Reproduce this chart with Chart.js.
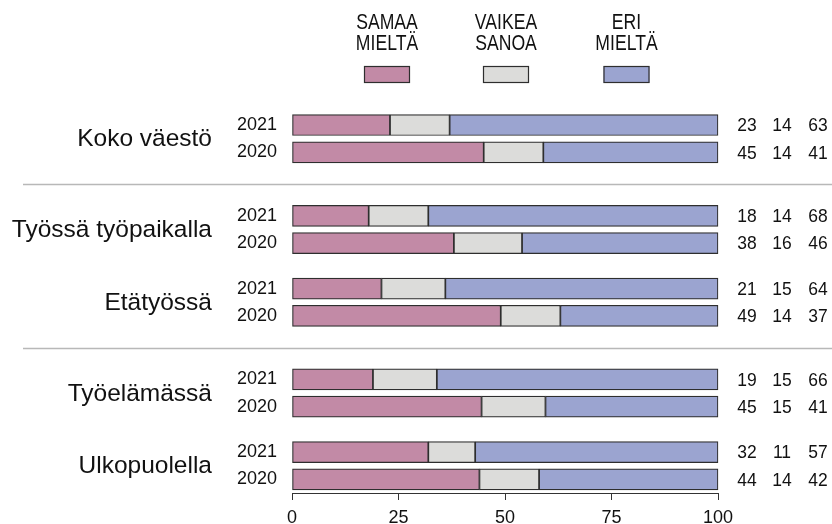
<!DOCTYPE html>
<html>
<head>
<meta charset="utf-8">
<script src="https://cdn.jsdelivr.net/npm/chart.js@4"></script>
<style>
  html, body { margin: 0; padding: 0; background: #fff; }
  canvas { display: block; }
</style>
</head>
<body>
<canvas id="chart" width="832" height="524"></canvas>
<script>
// data
var groups = ['Koko väestö', 'Työssä työpaikalla', 'Etätyössä', 'Työelämässä', 'Ulkopuolella'];
var years = ['2021', '2020'];
var samaa  = [23, 45, 18, 38, 21, 49, 19, 44.5, 32, 44];
var vaikea = [14, 14, 14, 16, 15, 14, 15, 15,   11, 14];
var eri    = [63, 41, 68, 46, 64, 37, 66, 40.5, 57, 42];
var seriesNames = [['SAMAA', 'MIELTÄ'], ['VAIKEA', 'SANOA'], ['ERI', 'MIELTÄ']];
var xTicks = [0, 25, 50, 75, 100];

var colors = ['#c28aa6', '#dcdcda', '#9ba4d0'];
var edge = '#2e2e2e';
var font = '"Liberation Sans", Arial, sans-serif';

// slot layout: rows 3 slots apart, groups 7 or 5 apart, a gray line between some groups
var rowGap = 3, groupGap = [0, 7, 5, 7, 5];
var lineBefore = [false, true, false, true, false];
var rowSlot = [];
var slot = 0;
groups.forEach(function (g, gi) {
  slot += groupGap[gi];
  rowSlot.push(slot);
  slot += rowGap;
  rowSlot.push(slot);
});
var nSlots = slot + 2;

var labels = [];
for (var i = 0; i < nSlots; i++) labels.push('');
rowSlot.forEach(function (s, r) { labels[s] = years[r % 2]; });

function spread(vals) {
  var out = [];
  for (var i = 0; i < nSlots; i++) out.push(null);
  rowSlot.forEach(function (s, r) { out[s] = vals[r]; });
  return out;
}

// text squeezed a bit sideways, like the original
function squeezed(ctx, txt, x, y, sx, align) {
  ctx.save();
  ctx.translate(x, y);
  ctx.scale(sx, 1);
  ctx.textAlign = align;
  ctx.fillText(txt, 0, 0);
  ctx.restore();
}

var extras = {
  id: 'extras',
  afterDraw: function (chart) {
    var ctx = chart.ctx;
    var y = chart.scales.y;
    ctx.save();
    ctx.textBaseline = 'middle';

    // legend
    var legX = [387, 506, 626.5];
    seriesNames.forEach(function (lines, k) {
      ctx.fillStyle = '#111';
      ctx.font = '22px ' + font;
      squeezed(ctx, lines[0], legX[k], 23, 0.8, 'center');
      squeezed(ctx, lines[1], legX[k], 44, 0.8, 'center');
      ctx.fillStyle = colors[k];
      ctx.fillRect(legX[k] - 23, 66, 46, 17);
      ctx.strokeStyle = edge;
      ctx.lineWidth = 1.2;
      ctx.strokeRect(legX[k] - 23 + 0.5, 66.5, 45, 16);
    });

    // group names + separators
    groups.forEach(function (g, gi) {
      var y1 = y.getPixelForValue(rowSlot[gi * 2]);
      var y2 = y.getPixelForValue(rowSlot[gi * 2 + 1]);
      ctx.font = '24.5px ' + font;
      ctx.fillStyle = '#111';
      squeezed(ctx, g, 212, (y1 + y2) / 2 + 1, 1, 'right');
      if (lineBefore[gi]) {
        var prev = y.getPixelForValue(rowSlot[gi * 2 - 1]);
        var ly = Math.round((prev + y1) / 2) + 0.5;
        ctx.strokeStyle = '#b8b8b8';
        ctx.lineWidth = 1.5;
        ctx.beginPath();
        ctx.moveTo(23, ly);
        ctx.lineTo(832, ly);
        ctx.stroke();
      }
    });

    // numbers on the right
    ctx.font = '19px ' + font;
    ctx.fillStyle = '#111';
    var numX = [747, 782, 818];
    rowSlot.forEach(function (s, r) {
      var py = y.getPixelForValue(s) + 1;
      [samaa, vaikea, eri].forEach(function (arr, k) {
        squeezed(ctx, String(Math.round(arr[r])), numX[k], py, 0.92, 'center');
      });
    });
    ctx.restore();
  }
};

var datasets = [samaa, vaikea, eri].map(function (vals, k) {
  return {
    label: seriesNames[k].join(' '),
    data: spread(vals),
    backgroundColor: colors[k],
    borderColor: edge,
    borderWidth: 1.2,
    borderSkipped: false,
    barThickness: 21,
    clip: false
  };
});

new Chart(document.getElementById('chart'), {
  type: 'bar',
  data: { labels: labels, datasets: datasets },
  options: {
    indexAxis: 'y',
    responsive: false,
    animation: false,
    layout: { padding: { top: 120.5, right: 114, left: 0, bottom: 0 } },
    plugins: { legend: { display: false }, tooltip: { enabled: false } },
    scales: {
      x: {
        stacked: true,
        min: 0,
        max: 100,
        afterFit: function (s) { s.height = 31; },
        afterBuildTicks: function (s) {
          s.ticks = xTicks.map(function (v) { return { value: v }; });
        },
        ticks: { font: { family: font, size: 18 }, color: '#111', padding: 7, maxRotation: 0 },
        grid: { drawOnChartArea: false, drawTicks: true, tickLength: 7, color: '#333' },
        border: { display: true, color: '#333' }
      },
      y: {
        stacked: true,
        afterFit: function (s) { s.width = 292; },
        ticks: { font: { family: font, size: 18 }, color: '#111', padding: 15, autoSkip: false },
        grid: { display: false, drawTicks: false },
        border: { display: false }
      }
    }
  },
  plugins: [extras]
});
</script>
</body>
</html>
